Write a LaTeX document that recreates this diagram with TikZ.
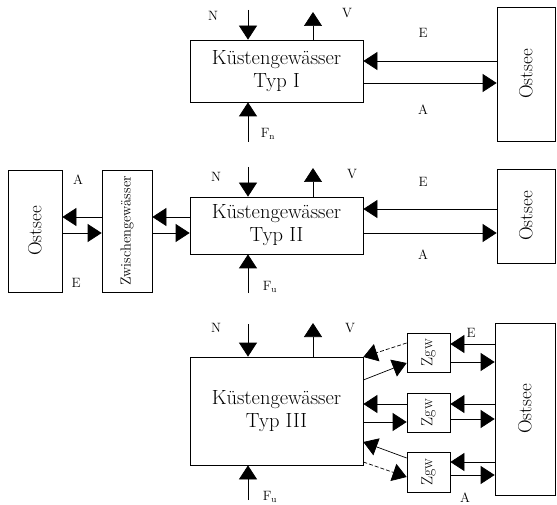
\documentclass[tikz,border=0pt]{standalone}
\usetikzlibrary{arrows.meta}
\begin{document}
\begin{tikzpicture}[x=1pt,y=-1pt,
  box/.style={draw,line width=0.7pt,inner sep=0pt,anchor=center,align=center},
  kbox/.style={box,font=\fontsize{20.5}{23}\selectfont},
  obox/.style={box,font=\fontsize{19}{20}\selectfont},
  zbox/.style={box,font=\fontsize{16}{17}\selectfont},
  arr/.style={line width=0.7pt,-{Triangle[length=14pt,width=18pt]}},
  darr/.style={arr,dash pattern=on 4pt off 2pt},
  lab/.style={font=\fontsize{13.5}{14}\selectfont,inner sep=0pt}]
\useasboundingbox (0,0) rectangle (557,505);
% ---------- Panel I ----------
\node[kbox,minimum width=173pt,minimum height=62pt] (k1) at (276.5,71) {K\"ustengew\"asser\\Typ I};
\node[obox,minimum width=58pt,minimum height=134pt] (o1) at (526,74) {\rotatebox{90}{Ostsee}};
\coordinate (n1) at (248,10);
\coordinate (v1) at (313,12);
\coordinate (f1) at (248,142);
\draw[arr] (n1) -- (n1 |- k1.north);
\draw[arr] (v1 |- k1.north) -- (v1);
\draw[arr] (f1) -- (f1 |- k1.south);
\draw[arr] (o1.west |- 0,61) -- (k1.east |- 0,61);
\draw[arr] (k1.east |- 0,83) -- (o1.west |- 0,83);
\node[lab] (lN1) at (213,16) {N};
\node[lab] (lV1) at (347,13) {V};
\node[lab] (lE1) at (423,33) {E};
\node[lab] (lA1) at (423,110) {A};
\node[lab] (lF1) at (268,134) {F$_{\mathrm{n}}$};
% ---------- Panel II ----------
\node[kbox,minimum width=173pt,minimum height=57pt] (k2) at (276.5,225.5) {K\"ustengew\"asser\\Typ II};
\node[obox,minimum width=58pt,minimum height=94pt] (o2) at (526,216) {\rotatebox{90}{Ostsee}};
\node[box,minimum width=50pt,minimum height=122pt,font=\fontsize{14.5}{15}\selectfont] (zw) at (127,231) {\rotatebox{90}{Zwischengew\"asser}};
\node[obox,minimum width=54pt,minimum height=122pt] (oL) at (35,231) {\rotatebox{90}{Ostsee}};
\coordinate (n2) at (248,167);
\coordinate (v2) at (313,168);
\coordinate (f2) at (248,293);
\draw[arr] (n2) -- (n2 |- k2.north);
\draw[arr] (v2 |- k2.north) -- (v2);
\draw[arr] (f2) -- (f2 |- k2.south);
\draw[arr] (o2.west |- 0,209) -- (k2.east |- 0,209);
\draw[arr] (k2.east |- 0,233) -- (o2.west |- 0,233);
\draw[arr] (k2.west |- 0,217) -- (zw.east |- 0,217);
\draw[arr] (zw.east |- 0,233) -- (k2.west |- 0,233);
\draw[arr] (zw.west |- 0,217) -- (oL.east |- 0,217);
\draw[arr] (oL.east |- 0,233) -- (zw.west |- 0,233);
\node[lab] (lN2) at (216,177) {N};
\node[lab] (lV2) at (352,174) {V};
\node[lab] (lE2) at (423,182) {E};
\node[lab] (lA2) at (423,255) {A};
\node[lab] (lF2) at (270,287) {F$_{\mathrm{u}}$};
\node[lab] (lA2l) at (78,180) {A};
\node[lab] (lE2l) at (76,283) {E};
% ---------- Panel III ----------
\node[kbox,minimum width=173pt,minimum height=108pt] (k3) at (276.5,411) {K\"ustengew\"asser\\Typ III};
\node[obox,minimum width=60pt,minimum height=172pt] (o3) at (525,409) {\rotatebox{90}{Ostsee}};
\node[zbox,minimum width=43pt,minimum height=39pt] (g1) at (428.5,352.5) {\rotatebox{90}{Zgw}};
\node[zbox,minimum width=43pt,minimum height=39pt] (g2) at (428.5,412.5) {\rotatebox{90}{Zgw}};
\node[zbox,minimum width=43pt,minimum height=40pt] (g3) at (428.5,472) {\rotatebox{90}{Zgw}};
\coordinate (n3) at (248,324);
\coordinate (v3) at (313,323);
\coordinate (f3) at (248,500);
\draw[arr] (n3) -- (n3 |- k3.north);
\draw[arr] (v3 |- k3.north) -- (v3);
\draw[arr] (f3) -- (f3 |- k3.south);
% Zgw <-> Ostsee
\draw[arr] (o3.west |- 0,344) -- (g1.east |- 0,344);
\draw[arr] (g1.east |- 0,362) -- (o3.west |- 0,362);
\draw[arr] (o3.west |- 0,404) -- (g2.east |- 0,404);
\draw[arr] (g2.east |- 0,419) -- (o3.west |- 0,419);
\draw[arr] (o3.west |- 0,462) -- (g3.east |- 0,462);
\draw[arr] (g3.east |- 0,475) -- (o3.west |- 0,475);
% Kuestengewaesser <-> Zgw
\draw[darr] (g1.west |- 0,343) -- (k3.east |- 0,357);
\draw[arr] (k3.east |- 0,380) -- (g1.west |- 0,363);
\draw[arr] (g2.west |- 0,404) -- (k3.east |- 0,404);
\draw[arr] (k3.east |- 0,422) -- (g2.west |- 0,422);
\draw[arr] (g3.west |- 0,458) -- (k3.east |- 0,442);
\draw[darr] (k3.east |- 0,462) -- (g3.west |- 0,477);
\node[lab] (lN3) at (216,328) {N};
\node[lab] (lV3) at (350,328) {V};
\node[lab] (lE3) at (471,333) {E};
\node[lab] (lA3) at (465,498) {A};
\node[lab] (lF3) at (270,497) {F$_{\mathrm{u}}$};
\end{tikzpicture}
\end{document}
